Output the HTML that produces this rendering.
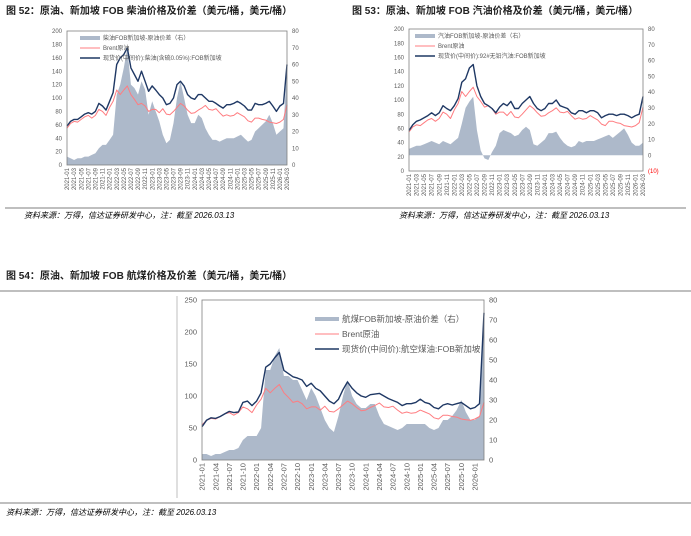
<!DOCTYPE html>
<html><head><meta charset="utf-8">
<style>
body{margin:0;background:#fff;width:691px;height:536px;overflow:hidden;font-family:"Liberation Sans","Noto Sans CJK SC",sans-serif;}
svg{position:absolute;left:0;top:0;}
</style></head><body>
<svg id="s" width="691" height="536" xmlns="http://www.w3.org/2000/svg"></svg>
<script>
const diesel=[58,65,68,68,72,76,78,76,80,92,88,82, 95,108,150,160,165,175,145,135,125,140,125,110, 118,112,105,100,90,92,100,120,125,118,105,100, 98,105,105,100,95,95,92,88,85,90,90,92, 95,92,88,82,82,92,90,90,92,95,88,80, 88,92,150];
const brent=[55,62,65,64,68,72,74,70,74,83,80,74, 86,95,112,105,112,118,105,98,90,92,88,80, 83,83,78,84,76,75,80,86,92,88,82,77, 78,82,85,89,83,82,84,78,73,75,73,74, 78,75,72,66,64,70,70,68,67,64,63,62, 64,68,90];
const dieselSpread=[5,4,3,4,4,5,5,6,7,10,12,12, 15,18,42,48,58,70,48,46,42,50,45,30, 38,32,26,18,13,15,25,40,50,40,30,25, 25,30,28,22,18,15,15,14,15,16,16,16, 17,18,16,14,15,20,22,24,26,30,25,18, 20,22,60];
const gasoline=[57,65,70,72,75,78,82,78,82,92,88,85, 92,102,125,130,145,150,120,105,95,92,88,82, 90,95,92,98,88,88,95,100,105,95,88,85, 88,95,95,100,92,90,88,82,80,85,85,82, 85,85,82,75,78,80,80,78,80,80,78,75, 78,80,105];
const gasSpread=[4,5,6,6,7,8,9,8,7,9,8,7, 9,11,20,30,34,37,16,3,-2,-3,2,6, 14,16,15,14,12,13,16,18,16,7,6,8, 10,14,14,15,11,8,6,5,6,9,8,9, 9,9,10,11,12,13,11,13,15,17,13,8, 6,6,8];
const jet=[52,62,66,65,68,72,76,74,75,90,92,85, 92,105,145,150,160,168,140,135,130,128,125,115, 120,112,108,100,92,88,95,110,122,112,105,100, 98,102,103,104,100,96,93,90,85,88,88,90, 95,90,88,82,80,86,88,86,88,90,85,80, 82,88,230];
const jetSpread=[3,3,2,3,3,4,5,5,6,10,12,12, 12,16,45,45,52,56,42,42,40,40,35,30, 36,32,26,20,16,14,22,32,40,32,28,26, 26,28,28,22,18,17,16,15,16,18,18,18, 18,18,16,15,16,20,20,22,25,30,24,20, 20,22,70];
const months=[];for(let y=2021;y<=2026;y++)for(let m=1;m<=12;m++){if(y==2026&&m>3)break;months.push(y+'-'+String(m).padStart(2,'0'));}
const leftTicks52=[0,20,40,60,80,100,120,140,160,180,200];
const rightTicks52=[0,10,20,30,40,50,60,70,80];
const rightTicks53=[-10,0,10,20,30,40,50,60,70,80];
const leftTicks54=[0,50,100,150,200,250];

const S=document.getElementById('s');const NS='http://www.w3.org/2000/svg';
function el(tag,attrs,parent){const e=document.createElementNS(NS,tag);for(const k in attrs)e.setAttribute(k,attrs[k]);(parent||S).appendChild(e);return e;}
function txt(str,attrs,parent){const e=el('text',attrs,parent);e.textContent=str;return e;}

function chart(o){
  const g=el('g',{});
  
  
  const n=months.length;
  const X=i=>o.x0+(o.x1-o.x0)*i/(n-1);
  const YL=v=>o.y1-(v-o.lmin)/(o.lmax-o.lmin)*(o.y1-o.y0);
  const YR=v=>o.y1-(v-o.rmin)/(o.rmax-o.rmin)*(o.y1-o.y0);
  let zero=YR(0);
  let d='M'+X(0)+','+zero;
  o.spread.forEach((v,i)=>{d+=' L'+X(i).toFixed(1)+','+YR(v).toFixed(1);});
  d+=' L'+X(n-1)+','+zero+' Z';
  const a=el('path',{d:d,fill:'#adb9ca',stroke:'none'},g);
  
  
  function line(arr,col,w,nm){let p='';arr.forEach((v,i)=>{p+=(i?' L':'M')+X(i).toFixed(1)+','+YL(v).toFixed(1);});
    const l=el('path',{d:p,fill:'none',stroke:col,'stroke-width':w,'stroke-linejoin':'round'},g);
    
    }
  line(o.brent,'#ff7c80',1,'brent-line');
  line(o.price,'#1f3864',1.4,'price-line');
  el('rect',{x:o.x0,y:o.y0,width:o.x1-o.x0,height:o.y1-o.y0,fill:'none',stroke:'#7f7f7f','stroke-width':0.8},g);
  o.lticks.forEach(v=>{const t=txt(String(v),{x:o.x0-5,y:YL(v)+o.fs*0.35,'font-size':o.fs,fill:'#595959','text-anchor':'end'},g);
    });
  o.rticks.forEach(v=>{const t=txt(v<0?'('+(-v)+')':String(v),{x:o.x1+5,y:YR(v)+o.fs*0.35,'font-size':o.fs,fill:v<0?'#ff0000':'#595959'},g);
    });
  for(let i=0;i<n;i+=o.xstep){const xx=X(i)+o.fs*0.35;const yy=o.y1+3;
    const t=txt(months[i],{x:xx,y:yy,'font-size':o.fs,fill:'#595959','text-anchor':'end',transform:'rotate(-90 '+xx+' '+yy+')'},g);
    }
  const L=o.leg;
  const items=[['#adb9ca',4,o.names[0]],['#ff7c80',1,o.names[1]],['#1f3864',1.6,o.names[2]]];
  items.forEach((it,k)=>{const yy=L.y+k*L.dy;
    const r=el('line',{x1:L.x,y1:yy,x2:L.x+L.w,y2:yy,stroke:it[0],'stroke-width':it[1]},g);
    
    const t=txt(it[2],{x:L.x+L.w+3,y:yy+L.fs*0.35,'font-size':L.fs,fill:'#595959'},g);
    });
}
chart({name:'chart-52-diesel',x0:67,x1:287,y0:31,y1:165,lmin:0,lmax:200,rmin:0,rmax:80,price:diesel,brent:brent,spread:dieselSpread,lticks:leftTicks52,rticks:rightTicks52,fs:6,xstep:2,
  leg:{x:80,y:38,dy:10,w:20,fs:6},names:['柴油FOB新加坡-原油价差（右）','Brent原油','现货价(中间价):柴油(含硫0.05%):FOB新加坡']});
chart({name:'chart-53-gasoline',x0:409,x1:643,y0:29,y1:171,lmin:0,lmax:200,rmin:-10,rmax:80,price:gasoline,brent:brent,spread:gasSpread,lticks:leftTicks52,rticks:rightTicks53,fs:6,xstep:2,
  leg:{x:415,y:36,dy:10,w:20,fs:6},names:['汽油FOB新加坡-原油价差（右）','Brent原油','现货价(中间价):92#无铅汽油:FOB新加坡']});
chart({name:'chart-54-jet',x0:202,x1:484,y0:300,y1:460,lmin:0,lmax:250,rmin:0,rmax:80,price:jet,brent:brent,spread:jetSpread,lticks:leftTicks54,rticks:rightTicks52,fs:7.5,xstep:3,
  leg:{x:315,y:319,dy:15,w:24,fs:8.5},names:['航煤FOB新加坡-原油价差（右）','Brent原油','现货价(中间价):航空煤油:FOB新加坡']});
</script>
<svg width="691" height="536" xmlns="http://www.w3.org/2000/svg" style="pointer-events:none">
<text x="6" y="14" font-size="10" font-weight="bold" fill="#222">图 52：原油、新加坡 FOB 柴油价格及价差（美元/桶，美元/桶）</text>
<text x="352" y="14" font-size="10" font-weight="bold" fill="#222">图 53：原油、新加坡 FOB 汽油价格及价差（美元/桶，美元/桶）</text>
<line x1="5" y1="208" x2="686" y2="208" stroke="#7f7f7f" stroke-width="1"/>
<text x="24" y="218" font-size="8" font-style="italic" fill="#000">资料来源：万得，信达证券研发中心，注：截至 2026.03.13</text>
<text x="399" y="218" font-size="8" font-style="italic" fill="#000">资料来源：万得，信达证券研发中心，注：截至 2026.03.13</text>
<text x="6" y="279" font-size="10" font-weight="bold" fill="#222">图 54：原油、新加坡 FOB 航煤价格及价差（美元/桶，美元/桶）</text>
<line x1="0" y1="291" x2="691" y2="291" stroke="#7f7f7f" stroke-width="1"/>
<line x1="177" y1="296" x2="177" y2="498" stroke="#bfbfbf" stroke-width="1"/>
<line x1="0" y1="503" x2="691" y2="503" stroke="#7f7f7f" stroke-width="1"/>
<text x="6" y="515" font-size="8" font-style="italic" fill="#000">资料来源：万得，信达证券研发中心，注：截至 2026.03.13</text>
</svg>
</body></html>
